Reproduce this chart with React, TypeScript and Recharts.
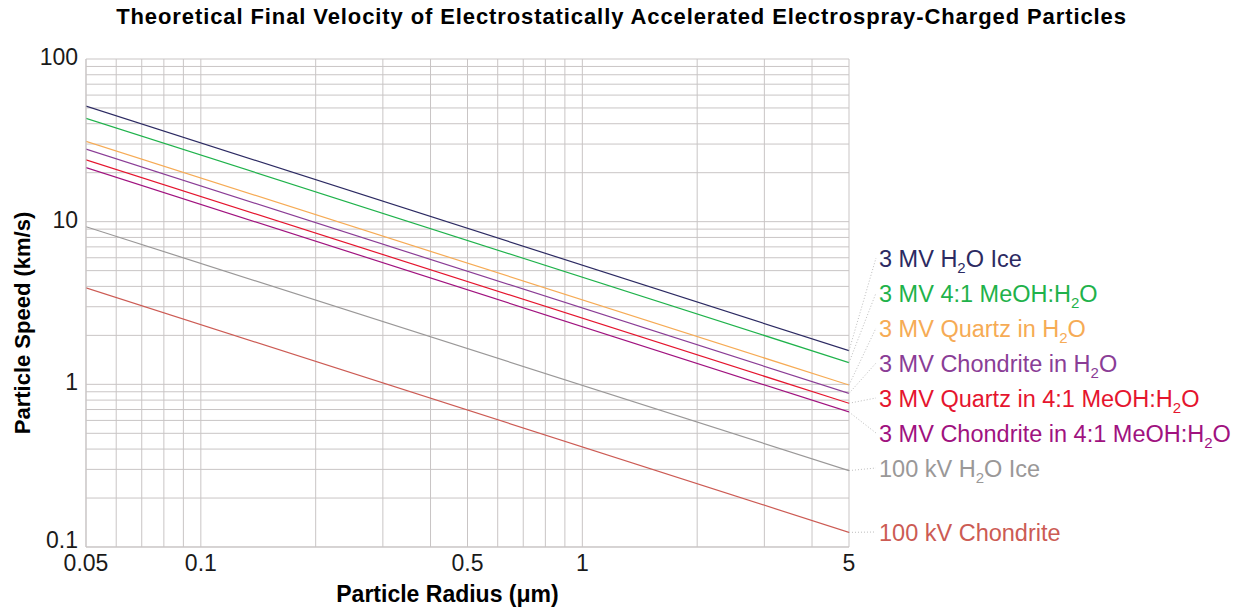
import { LineChart, Line, XAxis, YAxis, CartesianGrid, Label } from "recharts"

document.body.style.margin = "0"

// particle radius range (µm) at which each curve was read
const radiusPoints = [0.05, 5]

// speeds (km/s) read at the two ends of each curve
const iceHigh = [51.4, 1.61]
const meohHigh = [43.2, 1.36]
const quartzWaterHigh = [31.2, 0.99]
const chondriteWaterHigh = [27.9, 0.88]
const quartzMeohHigh = [24.0, 0.765]
const chondriteMeohHigh = [21.5, 0.676]
const iceLow = [9.31, 0.295]
const chondriteLow = [3.92, 0.123]

const xTicks = [0.05, 0.06, 0.07, 0.08, 0.09, 0.1, 0.2, 0.3, 0.4, 0.5, 0.6, 0.7, 0.8, 0.9, 1, 2, 3, 4, 5]
const xLabels = [0.05, 0.1, 0.5, 1, 5]
const yTicks = [
    0.1, 0.2, 0.3, 0.4, 0.5, 0.6, 0.7, 0.8, 0.9,
    1, 2, 3, 4, 5, 6, 7, 8, 9,
    10, 20, 30, 40, 50, 60, 70, 80, 90, 100,
]
const yLabels = [0.1, 1, 10, 100]

const FONT = "'Liberation Sans', Arial, Helvetica, sans-serif"
const GRID = "#c9c5c5"

type Part = { t: string; sub?: boolean }

interface Series {
    key: string
    values: number[]
    color: string
    label: Part[]
    labelY: number
}

const series: Series[] = [
    { key: "ice3", values: iceHigh, color: "#2c2a62", labelY: 258, label: [{ t: "3 MV H" }, { t: "2", sub: true }, { t: "O Ice" }] },
    { key: "meoh3", values: meohHigh, color: "#1fb24b", labelY: 293, label: [{ t: "3 MV 4:1 MeOH:H" }, { t: "2", sub: true }, { t: "O" }] },
    { key: "qw3", values: quartzWaterHigh, color: "#f6ab55", labelY: 328, label: [{ t: "3 MV Quartz in H" }, { t: "2", sub: true }, { t: "O" }] },
    { key: "cw3", values: chondriteWaterHigh, color: "#8a3d96", labelY: 363, label: [{ t: "3 MV Chondrite in H" }, { t: "2", sub: true }, { t: "O" }] },
    { key: "qm3", values: quartzMeohHigh, color: "#e5152e", labelY: 398, label: [{ t: "3 MV Quartz in 4:1 MeOH:H" }, { t: "2", sub: true }, { t: "O" }] },
    { key: "cm3", values: chondriteMeohHigh, color: "#a0127f", labelY: 433, label: [{ t: "3 MV Chondrite in 4:1 MeOH:H" }, { t: "2", sub: true }, { t: "O" }] },
    { key: "ice100", values: iceLow, color: "#9a9898", labelY: 468, label: [{ t: "100 kV H" }, { t: "2", sub: true }, { t: "O Ice" }] },
    { key: "ch100", values: chondriteLow, color: "#cc5b54", labelY: 532, label: [{ t: "100 kV Chondrite" }] },
]

function renderEndLabel(s: Series) {
    return (props: any) => {
        const { x, y, index } = props
        if (index !== radiusPoints.length - 1) return null
        const tx = x + 30
        // baseline sits a bit below the centre line of the label
        const base = s.labelY + 8.5
        return (
            <g key={s.key + "-lbl"}>
                <line x1={x} y1={y} x2={tx - 3} y2={s.labelY} stroke="#bdbdbd" strokeDasharray="1 2" />
                <text x={tx} y={base} fill={s.color} fontSize={23.5} fontFamily={FONT}>
                    {s.label.map((p, i) =>
                        p.sub ? (
                            <tspan key={i} fontSize={15} dy={6}>{p.t}</tspan>
                        ) : i > 0 && s.label[i - 1].sub ? (
                            <tspan key={i} dy={-6}>{p.t}</tspan>
                        ) : (
                            <tspan key={i}>{p.t}</tspan>
                        )
                    )}
                </text>
            </g>
        )
    }
}

const XTick = (props: any) => {
    const { x, y, payload } = props
    if (!xLabels.includes(payload.value)) return null
    return (
        <text x={x} y={y + 24} textAnchor="middle" fill="#1a1a1a" fontSize={23} fontFamily={FONT}>
            {payload.value}
        </text>
    )
}

const YTick = (props: any) => {
    const { x, y, payload } = props
    if (!yLabels.includes(payload.value)) return null
    const shift = payload.value === 0.1 ? -7 : -2
    return (
        <text x={x} y={y + shift + 8} textAnchor="end" fill="#1a1a1a" fontSize={23} fontFamily={FONT}>
            {payload.value}
        </text>
    )
}

export default function App() {
    return (
        <div style={{ position: "relative", width: 1243, height: 612, background: "#fff", fontFamily: FONT }}>
            <div
                style={{
                    position: "absolute",
                    top: 4,
                    left: 0,
                    width: 1243,
                    textAlign: "center",
                    fontWeight: "bold",
                    fontSize: 22,
                    letterSpacing: 0.9,
                    color: "#000",
                }}
            >
                Theoretical Final Velocity of Electrostatically Accelerated Electrospray-Charged Particles
            </div>
            <LineChart width={1243} height={612} margin={{ top: 59, right: 394, left: 0, bottom: 0 }}>
                <CartesianGrid stroke={GRID} strokeWidth={1} />
                <XAxis
                    type="number"
                    dataKey="x"
                    scale="log"
                    domain={[0.05, 5]}
                    ticks={xTicks}
                    interval={0}
                    allowDataOverflow
                    height={65}
                    tickLine={false}
                    tickSize={0}
                    tickMargin={0}
                    axisLine={{ stroke: GRID }}
                    tick={<XTick />}
                >
                    <Label
                        value="Particle Radius (μm)"
                        position="center"
                        dx={-20}
                        dy={14}
                        style={{ fontWeight: "bold", fontSize: 23, fill: "#000", fontFamily: FONT }}
                    />
                </XAxis>
                <YAxis
                    type="number"
                    dataKey="y"
                    scale="log"
                    domain={[0.1, 100]}
                    ticks={yTicks}
                    interval={0}
                    allowDataOverflow
                    width={86}
                    tickLine={false}
                    tickSize={0}
                    tickMargin={8}
                    axisLine={{ stroke: GRID }}
                    tick={<YTick />}
                >
                    <Label
                        value="Particle Speed (km/s)"
                        position="center"
                        angle={-90}
                        dx={-21}
                        dy={20}
                        style={{ fontWeight: "bold", fontSize: 22, fill: "#000", fontFamily: FONT }}
                    />
                </YAxis>
                {series.map((s) => (
                    <Line
                        key={s.key}
                        data={radiusPoints.map((r, i) => ({ x: r, y: s.values[i] }))}
                        dataKey="y"
                        type="linear"
                        stroke={s.color}
                        strokeWidth={1.2}
                        dot={false}
                        activeDot={false}
                        isAnimationActive={false}
                        label={renderEndLabel(s)}
                    />
                ))}
            </LineChart>
        </div>
    )
}
